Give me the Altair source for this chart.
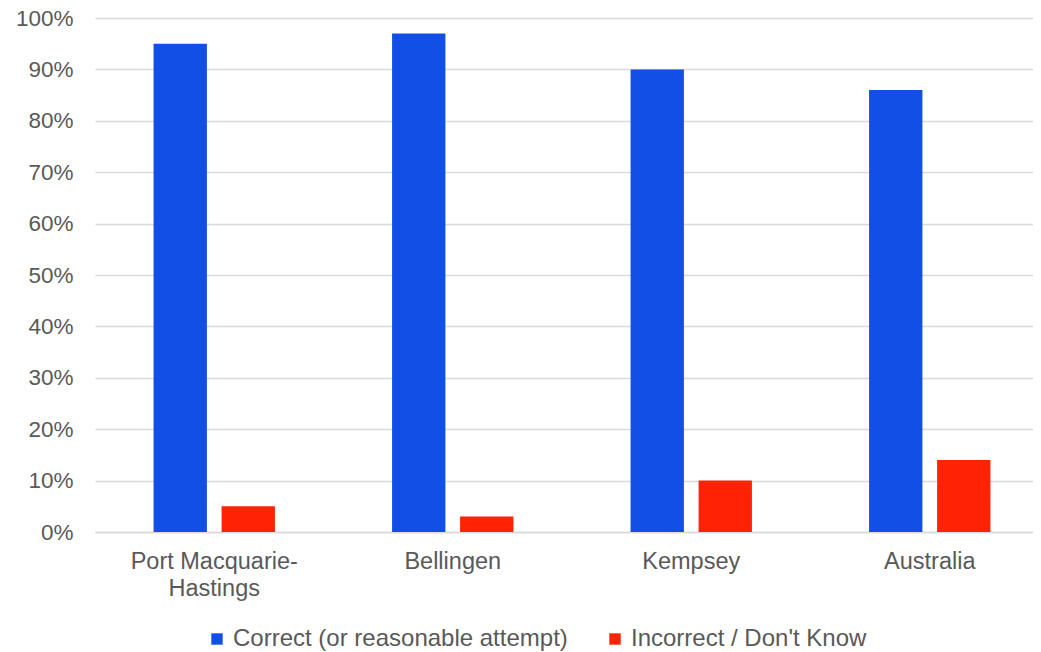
import altair as alt
import pandas as pd

regions = ["Port Macquarie-Hastings", "Bellingen", "Kempsey", "Australia"]
series = ["Correct (or reasonable attempt)", "Incorrect / Don't Know"]
correct = [0.95, 0.97, 0.90, 0.86]
incorrect = [0.05, 0.03, 0.10, 0.14]
colors = ["#114FE7", "#FF2305"]

rows = []
for r, c, i in zip(regions, correct, incorrect):
    rows.append({"region": r, "series": series[0], "value": c})
    rows.append({"region": r, "series": series[1], "value": i})
df = pd.DataFrame(rows)

font = "Liberation Sans"
grey = "#595959"

chart = alt.Chart(df).mark_bar().encode(
    x=alt.X("region:N", sort=regions, title=None,
            scale=alt.Scale(paddingInner=0, paddingOuter=0, range=[0, 954]),
            axis=alt.Axis(labelAngle=0, labelFont=font, labelFontSize=23.5, labelColor=grey,
                          labelPadding=17, ticks=False, domainColor="#d9d9d9", domainWidth=1.5,
                          labelLineHeight=27,
                          labelExpr="datum.label == 'Port Macquarie-Hastings' ? ['Port Macquarie-', 'Hastings'] : datum.label")),
    xOffset=alt.XOffset("series:N", sort=series,
                        scale=alt.Scale(paddingInner=0.216, paddingOuter=0.861)),
    y=alt.Y("value:Q", title=None,
            scale=alt.Scale(domain=[0, 1], nice=False),
            axis=alt.Axis(values=[i / 10 for i in range(11)], format=".0%", labelFont=font,
                          labelFontSize=22.5, labelColor=grey, labelPadding=22, ticks=False,
                          domain=False, gridColor="#d9d9d9", gridWidth=1.5)),
    color=alt.Color("series:N", sort=series,
                    scale=alt.Scale(domain=series, range=colors),
                    legend=alt.Legend(title=None, orient="none", direction="horizontal",
                                      legendX=110, legendY=609, symbolType="square",
                                      symbolSize=130, symbolStrokeWidth=0,
                                      labelFont=font, labelFontSize=24, labelColor=grey,
                                      labelOffset=4, columnPadding=35, labelLimit=600)),
).properties(
    width=938, height=514,
    autosize=alt.AutoSizeParams(type="none"),
    padding={"left": 87, "top": 10, "right": 0, "bottom": 120},
).configure_view(stroke=None)

chart.save("out.html", embed_options={"renderer": "svg", "actions": False})
